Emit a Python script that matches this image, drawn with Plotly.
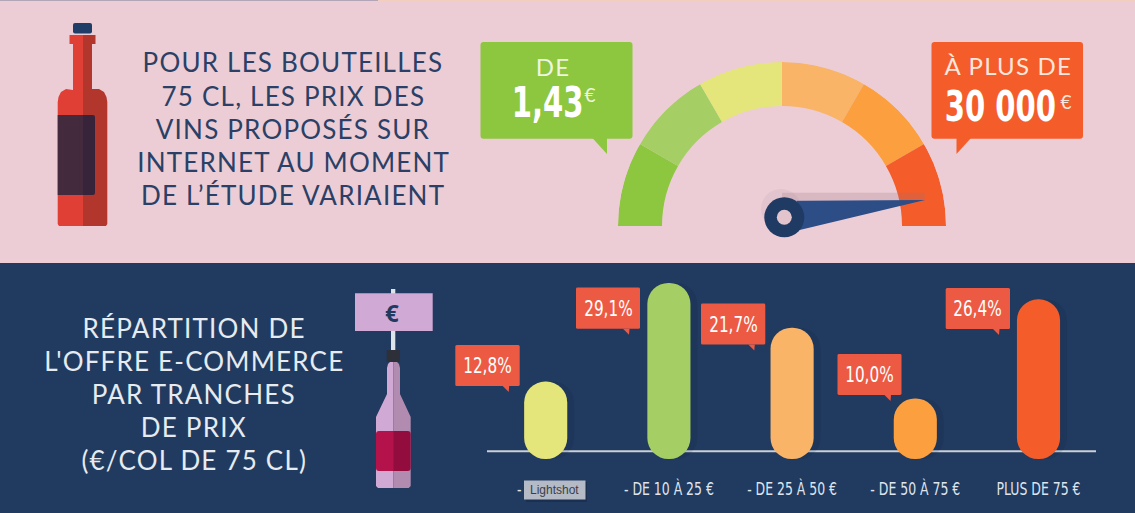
import plotly.graph_objects as go

W = 1135
H = 513

# price bands, % of the e-commerce offer
categories = ["- DE 10 €", "- DE 10 À 25 €", "- DE 25 À 50 €", "- DE 50 À 75 €", "PLUS DE 75 €"]
shares = [12.8, 29.1, 21.7, 10.0, 26.4]
bar_colors = ["#e4e57a", "#a5cf65", "#f9b467", "#fc9f3f", "#f45d2a"]

# gauge: six equal sectors, left to right
gauge_sectors = [30, 30, 30, 30, 30, 30]
gauge_colors = ["#8dc63f", "#a5cf65", "#e4e57a", "#f9b467", "#fc9f3f", "#f45d2a"]

intro_lines = ["POUR LES BOUTEILLES", "75 CL, LES PRIX DES", "VINS PROPOSÉS SUR", "INTERNET AU MOMENT", "DE L’ÉTUDE VARIAIENT"]
offer_lines = ["RÉPARTITION DE", "L'OFFRE E-COMMERCE", "PAR TRANCHES", "DE PRIX", "(€/COL DE 75 CL)"]

PINK = "#eccdd5"
NAVY = "#213a5f"
LABEL_RED = "#ec5a44"
NARROW = "DejaVu Sans Condensed, Roboto"
HEAD = "Lato"

fig = go.Figure()


def px(x):
    return x / W


def py(y):
    return 1 - y / H


def poly(points, color, layer="above"):
    d = "M" + " L".join(f"{px(x):.5f},{py(y):.5f}" for x, y in points) + " Z"
    fig.add_shape(type="path", path=d, xref="paper", yref="paper", fillcolor=color,
                  line_width=0, layer=layer)


def rect(x0, y0, x1, y1, color, layer="above"):
    fig.add_shape(type="rect", xref="paper", yref="paper", x0=px(x0), x1=px(x1), y0=py(y1), y1=py(y0),
                  fillcolor=color, line_width=0, layer=layer)


def rrect(x0, y0, x1, y1, color, r=3, left=True, right=True):
    # box with small round corners, either side can stay square
    rl = r if left else 0
    rr = r if right else 0
    p = lambda x, y: f"{px(x):.5f},{py(y):.5f}"
    d = (f"M{p(x0 + rl, y0)} L{p(x1 - rr, y0)} Q{p(x1, y0)} {p(x1, y0 + rr)} L{p(x1, y1 - rr)} Q{p(x1, y1)} {p(x1 - rr, y1)} "
         f"L{p(x0 + rl, y1)} Q{p(x0, y1)} {p(x0, y1 - rl)} L{p(x0, y0 + rl)} Q{p(x0, y0)} {p(x0 + rl, y0)} Z")
    fig.add_shape(type="path", path=d, xref="paper", yref="paper", fillcolor=color, line_width=0)


def circle(cx, cy, r, color):
    fig.add_shape(type="circle", xref="paper", yref="paper", x0=px(cx - r), x1=px(cx + r),
                  y0=py(cy + r), y1=py(cy - r), fillcolor=color, line_width=0)


def text(x, y, s, size, color, family=HEAD, weight="normal"):
    fig.add_annotation(x=px(x), y=py(y), xref="paper", yref="paper", text=s, showarrow=False,
                       font=dict(family=family, size=size, color=color, weight=weight),
                       xanchor="center", yanchor="middle")


# backgrounds
rect(0, 0, W, 263, PINK, "below")
rect(0, 263, W, H, NAVY, "below")
rect(0, 0, 378, 1, "#b3a5b8", "below")
rect(378, 0, W, 1, "#f3cdbf", "below")

# bars, an explicit base rounds both ends
base = [0] * len(shares)
x_pos = list(range(len(categories)))
x_shadow = [x + 0.055 for x in x_pos]
for xs, colors in [(x_shadow, "rgba(10,20,40,0.10)"), (x_pos, bar_colors)]:
    fig.add_trace(go.Bar(x=xs, y=shares, base=base, width=0.35, marker=dict(color=colors, cornerradius=21, line_width=0)))

# gauge
angle = [165 - 30 * i for i in range(len(gauge_sectors))]
fig.add_trace(go.Barpolar(r=[44] * len(gauge_sectors), base=120, theta=angle, width=gauge_sectors,
                          marker=dict(color=gauge_colors, line_width=0), subplot="polar"))

unit = 123.2
px_per_pct = 6.05
axis_bottom = 476
fig.update_layout(
    width=W, height=H, margin=dict(l=0, r=0, t=0, b=0), autosize=False,
    paper_bgcolor=NAVY, plot_bgcolor="rgba(0,0,0,0)", showlegend=False, barmode="overlay",
    xaxis=dict(range=[-545.7 / unit, (W - 545.7) / unit], tickvals=x_pos, ticktext=categories, showgrid=False,
               zeroline=False, showline=False, ticks="", ticklen=0,
               tickfont=dict(family=NARROW, size=18, color="#dfe5ee")),
    yaxis=dict(domain=[py(axis_bottom), 1], range=[-(axis_bottom - 459) / px_per_pct, 459 / px_per_pct],
               visible=False, fixedrange=True),
    polar=dict(domain=dict(x=[px(618), px(946)], y=[py(226), py(62)]), sector=[0, 180], bargap=0,
               bgcolor="rgba(0,0,0,0)",
               radialaxis=dict(range=[0, 164], visible=False),
               angularaxis=dict(visible=False)),
)

# axis line under the bars
rect(487, 450.3, 1096, 452.3, "#c9d0d8", "below")

# intro text
for line, y in zip(intro_lines, [62, 96, 129, 162, 195]):
    text(293, y, line, 26, "#2a4066")
for line, y in zip(offer_lines, [328, 361, 394, 427, 460]):
    text(194, y, line, 26, "#e6ebf0")

# red bottle
poly([(73, 90), (73, 44), (83, 44), (83, 226), (59, 226), (57.7, 224), (57.7, 102), (58.5, 97), (61, 92), (66, 89)], "#e03f36")
poly([(83, 44), (92, 44), (92, 89), (99, 89), (104, 92), (106.5, 97), (107.3, 102), (107.3, 224), (106, 226), (83, 226)], "#b3362d")
rect(69.5, 35, 83, 44, "#e03f36")
rect(83, 35, 95.5, 44, "#b3362d")
rrect(73, 23, 92, 33.5, "#1f3d66", 2)
rect(57.7, 115, 83, 195, "#442a3d")
rrect(80, 115, 95, 195, "#37243a", 2, left=False)
rect(80, 115, 83, 195, "#442a3d")

# gauge callouts
rrect(480.5, 42, 632.5, 138.7, "#8dc63f")
poly([(592.4, 138), (607, 154), (607, 138)], "#8dc63f")
rrect(931.5, 42, 1083, 138.7, "#f45d2a")
poly([(956.5, 138), (956.5, 154), (971, 138)], "#f45d2a")
text(553, 67, "DE", 24, "#eef5df")
text(547, 102, "1,43", 42, "#ffffff", NARROW, "bold")
text(590, 95, "€", 19, "#eef5df")
text(1008, 65.5, "À PLUS DE", 24, "#fde6dd")
text(1001, 107, "30 000", 42, "#ffffff", NARROW, "bold")
text(1066, 101, "€", 19, "#fde6dd")

# needle
circle(781, 209, 20, "#e2c4ce")
rect(782, 192.7, 925, 200.5, "rgba(150,110,125,0.22)")
poly([(796.5, 200.7), (925, 200), (796.5, 230.7)], "#2c4d86")
circle(784.3, 217.3, 20, "#1f3a63")
circle(784.3, 217.3, 7.5, "#e3c3cc")

# purple bottle with price sign
rect(391, 289, 395.3, 350, "#dce6ea")
rect(355, 293.3, 432.7, 331, "#d0a9d4")
text(392, 312, "€", 24, NAVY, "Open Sans", "bold")
rect(386.7, 350, 400, 362, "#2d3038")
poly([(387, 368), (388, 364), (390, 362), (393.5, 362), (393.5, 488), (378, 488), (376, 486), (376, 417), (387, 394)], "#d0a9d4")
poly([(393.5, 362), (397, 362), (399, 364), (400, 368), (400, 394), (410.7, 417), (410.7, 486), (408.7, 488), (393.5, 488)], "#b18cb0")
rrect(376, 431, 398, 471, "#b3124a", 3, right=False)
rrect(393.5, 431, 410.7, 471, "#920c3e", 3, left=False)

# percent callouts
label_boxes = [(455.3, 345, 519.7, 386), (576, 287.5, 640, 328.7), (701, 303.5, 765.3, 344.5),
               (837.5, 354, 901.5, 395), (945.7, 288, 1010, 329)]
for share, (x0, y0, x1, y1) in zip(shares, label_boxes):
    rrect(x0, y0, x1, y1, LABEL_RED, 1.5)
    poly([(x1 - 17, y1), (x1 - 11, y1 + 6), (x1 - 10.5, y1)], LABEL_RED)
    text((x0 + x1) / 2, (y0 + y1) / 2, f"{share:.1f}".replace(".", ",") + "%", 22, "#ffffff", NARROW)

# browser tooltip caught in the screenshot
rect(526, 482, 587, 502, "rgba(10,20,40,0.25)")
rect(524, 480.5, 585.5, 499.5, "#b4bac6")
text(554.5, 490, "Lightshot", 12, "#3a3f4a", "Liberation Sans")

# the reference uses a spaced Futura and a tall condensed face, neither is installed
post = """
document.body.style.margin = '0';
document.querySelectorAll('.annotation-text, .xtick text').forEach(function (t) {
  var family = t.style.fontFamily;
  if (family.indexOf('Lato') >= 0) { t.style.letterSpacing = '1.2px'; }
  if (family.indexOf('Condensed') >= 0) {
    var x = t.getAttribute('x') || 0;
    var old = t.getAttribute('transform') || '';
    t.setAttribute('transform', old + ' translate(' + x + ',0) scale(0.77,1) translate(' + (-x) + ',0)');
  }
});
"""
fig.write_html("out.html", config={"displayModeBar": False}, post_script=post)
